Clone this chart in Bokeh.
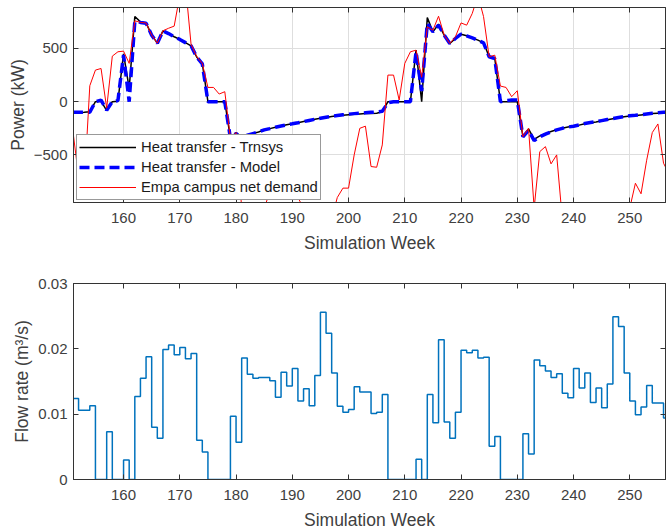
from bokeh.plotting import figure
from bokeh.models import Range1d, LinearAxis, FixedTicker
from bokeh.layouts import column
from bokeh.embed import file_html
from bokeh.resources import INLINE

weeks = list(range(151, 258))

trnsys = [-103, -103, -100, -95, 0, 5, -84, 0, 5, 450,
          125, 800, 750, 740, 625, 550, 665, 640, 610, 585,
          555, 525, 420, 360, 0, 0, 0, 0, -344, -290,
          -334, -312, -300, -285, -265, -253, -240, -228, -217, -208,
          -198, -187, -176, -165, -156, -148, -140, -133, -127, -122,
          -118, -115, -112, -110, -108, -95, 0, 0, 0, 0,
          0, 484, 0, 790, 656, 728, 625, 547, 594, 634,
          619, 600, 578, 553, 422, 406, 0, 0, 0, 0,
          -328, -255, -353, -322, -300, -280, -263, -250, -238, -230,
          -220, -208, -198, -190, -180, -170, -160, -150, -142, -135,
          -130, -124, -118, -112, -109, -107, -105]

model = [-100, -100, -100, -98, 0, 15, -80, 0, 10, 440,
         0, 755, 745, 738, 625, 550, 665, 640, 610, 585,
         555, 525, 420, 355, 0, 0, 0, 0, -344, -300,
         -350, -315, -300, -285, -265, -253, -240, -228, -217, -208,
         -198, -187, -176, -165, -155, -146, -137, -130, -123, -117,
         -112, -108, -104, -100, -97, -90, -10, 0, 0, 0,
         0, 470, 100, 735, 656, 720, 625, 547, 594, 634,
         619, 600, 578, 553, 422, 406, 0, 10, 15, 15,
         -330, -270, -365, -330, -305, -283, -265, -250, -238, -230,
         -218, -205, -196, -188, -178, -168, -158, -148, -140, -133,
         -128, -122, -115, -108, -103, -100, -98]

demand = [-280, -700, -800, 150, 297, 312, -60, 428, 469, 475,
          360, 760, 745, 740, 625, 550, 666, 690, 710, 1000,
          1100, 540, 425, 360, 134, 134, 72, 94, -344, -290,
          -1000, -1400, -1300, -1200, -1000, -850, -700, -600, -650, -800,
          -900, -1000, -1100, -1200, -1250, -1200, -1100, -900, -812, -812,
          -500, -250, -230, -609, -616, -406, 250, 250, 16, 360,
          469, 484, 230, 703, 672, 803, 625, 547, 610, 740,
          719, 830, 1000, 800, 422, 437, 147, 134, 47, 103,
          -328, -250, -1000, -469, -422, -584, -500, -1100, -1300, -1400,
          -1500, -1500, -1400, -1400, -1300, -1300, -1200, -1200, -1100, -1000,
          -766, -865, -550, -290, -209, -578, -680]

flow = [0.0124, 0.0106, 0.0106, 0.0113, 0, 0, 0.0073, 0, 0, 0.0030,
        0, 0.0127, 0.0155, 0.0188, 0.0080, 0.0063, 0.0199, 0.0206, 0.0191, 0.0202,
        0.0185, 0.0193, 0.0060, 0.0042, 0, 0, 0, 0, 0.0097, 0.0057,
        0.0186, 0.0161, 0.0155, 0.0156, 0.0156, 0.0151, 0.0126, 0.0164, 0.0143, 0.0170,
        0.0120, 0.0139, 0.0113, 0.0159, 0.0256, 0.0224, 0.0163, 0.0112, 0.0103, 0.0107,
        0.0142, 0.0134, 0.0134, 0.0101, 0.0103, 0.0130, 0, 0, 0, 0,
        0, 0.0031, 0, 0.0130, 0.0087, 0.0214, 0.0088, 0.0063, 0.0103, 0.0198,
        0.0194, 0.0198, 0.0186, 0.0187, 0.0051, 0.0066, 0, 0, 0, 0,
        0.0070, 0.0039, 0.0183, 0.0174, 0.0166, 0.0156, 0.0162, 0.0132, 0.0125, 0.0170,
        0.0140, 0.0163, 0.0118, 0.0140, 0.0110, 0.0146, 0.0249, 0.0234, 0.0163, 0.0120,
        0.0099, 0.0111, 0.0144, 0.0117, 0.0117, 0.0094, 0.0094]

week_ticks = [160, 170, 180, 190, 200, 210, 220, 230, 240, 250]
power_ticks = [-500, 0, 500]
flow_ticks = [0, 0.01, 0.02, 0.03]
flow_tick_labels = ["0", "0.01", "0.02", "0.03"]

FONT = "Liberation Sans"
TXT = "#404040"
AX = "#333333"


def style(p, yticks, ylabel, grid):
    for ax in (p.xaxis[0], p.yaxis[0]):
        ax.major_label_text_font = FONT
        ax.major_label_text_font_size = "15px"
        ax.major_label_text_color = TXT
        ax.axis_label_text_font = FONT
        ax.axis_label_text_font_size = "17.5px"
        ax.axis_label_text_font_style = "normal"
        ax.axis_label_text_color = TXT
        ax.axis_line_color = AX
        ax.major_tick_line_color = AX
        ax.major_tick_in = 5
        ax.major_tick_out = 0
        ax.minor_tick_line_color = None
    p.xaxis[0].ticker = FixedTicker(ticks=week_ticks)
    p.yaxis[0].ticker = FixedTicker(ticks=yticks)
    p.xaxis[0].axis_label = "Simulation Week"
    p.yaxis[0].axis_label = ylabel
    p.xaxis[0].major_label_standoff = 10
    p.xaxis[0].axis_label_standoff = 7
    p.yaxis[0].major_label_standoff = 6
    p.yaxis[0].axis_label_standoff = 3
    # box ticks on top and right
    top = LinearAxis(ticker=FixedTicker(ticks=week_ticks), major_label_text_font_size="0px",
                     major_label_standoff=0, major_tick_in=5, major_tick_out=0,
                     minor_tick_line_color=None, axis_line_color=AX, major_tick_line_color=AX,
                     major_label_overrides={t: "" for t in week_ticks})
    right = LinearAxis(ticker=FixedTicker(ticks=yticks), major_label_text_font_size="0px",
                       major_label_standoff=0, major_tick_in=5, major_tick_out=0,
                       minor_tick_line_color=None, axis_line_color=AX, major_tick_line_color=AX,
                       major_label_overrides={t: "" for t in yticks})
    p.add_layout(top, "above")
    p.add_layout(right, "right")
    p.outline_line_color = AX
    if grid:
        p.xgrid.ticker = FixedTicker(ticks=week_ticks)
        p.ygrid.ticker = FixedTicker(ticks=yticks)
        p.grid.grid_line_color = "#dedede"
        p.grid.grid_line_width = 1
    else:
        p.grid.grid_line_color = None
    p.background_fill_color = "white"
    p.border_fill_color = "white"


p1 = figure(width=667, height=262, min_border_left=73, min_border_right=2,
            min_border_top=7, min_border_bottom=60,
            x_range=Range1d(151.1, 256.35), y_range=Range1d(-947, 885),
            output_backend="svg", toolbar_location=None)
style(p1, power_ticks, "Power (kW)", True)

p1.line(weeks, trnsys, color="black", line_width=1.5, legend_label="Heat transfer - Trnsys")
p1.line(weeks, model, color="#0000ff", line_width=3.5, line_dash="10 5",
        legend_label="Heat transfer - Model")
p1.line(weeks, demand, color="#ff0000", line_width=1, legend_label="Empa campus net demand")

lg = p1.legend[0]
lg.location = (3, 2)
lg.label_text_font = FONT
lg.label_text_font_size = "14.8px"
lg.label_text_color = "#1a1a1a"
lg.glyph_width = 57
lg.glyph_height = 20
lg.label_height = 20
lg.label_standoff = 5
lg.spacing = 0
lg.padding = 2
lg.margin = 0
lg.border_line_color = AX
lg.border_line_width = 1
lg.background_fill_alpha = 1.0

p2 = figure(width=667, height=270, min_border_left=73, min_border_right=2,
            min_border_top=21, min_border_bottom=53,
            x_range=Range1d(151.1, 256.35), y_range=Range1d(0, 0.03),
            output_backend="svg", toolbar_location=None)
style(p2, flow_ticks, "Flow rate (m³/s)", False)
p2.yaxis[0].major_label_overrides = {t: s for t, s in zip(flow_ticks, flow_tick_labels)}
p2.step(weeks, flow, mode="after", color="#0072bd", line_width=1.5)

layout = column(p1, p2, spacing=0)
open("out.html", "w").write(file_html(layout, INLINE))
